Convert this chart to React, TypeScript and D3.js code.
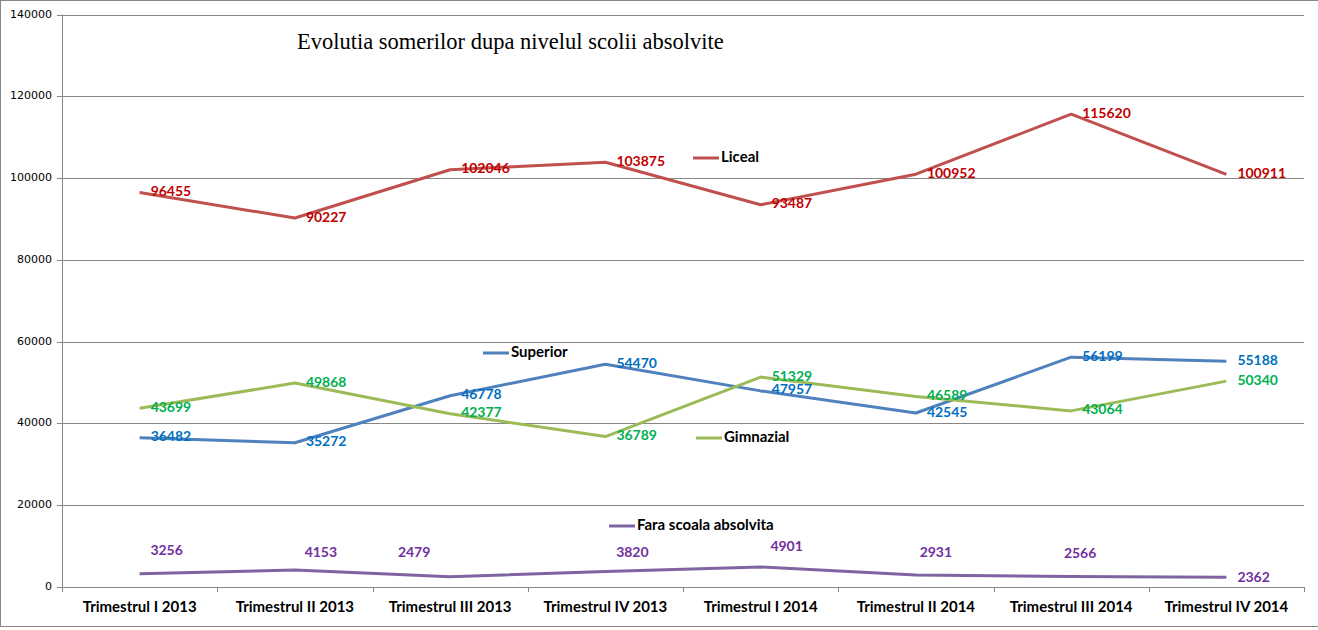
import * as d3 from "d3";

const categories = [
  "Trimestrul I 2013",
  "Trimestrul II 2013",
  "Trimestrul III 2013",
  "Trimestrul IV 2013",
  "Trimestrul I 2014",
  "Trimestrul II 2014",
  "Trimestrul III 2014",
  "Trimestrul IV 2014",
];

const liceal = [96455, 90227, 102046, 103875, 93487, 100952, 115620, 100911];
const superior = [36482, 35272, 46778, 54470, 47957, 42545, 56199, 55188];
const gimnazial = [43699, 49868, 42377, 36789, 51329, 46589, 43064, 50340];
const fara = [3256, 4153, 2479, 3820, 4901, 2931, 2566, 2362];

const yTicks = [0, 20000, 40000, 60000, 80000, 100000, 120000, 140000];

const W = 1318;
const H = 630;
const PLOT = { left: 62, right: 1304, top: 14.5, bottom: 587 };

// hand nudges for the "Fara" labels (they sit above the line in the original)
const faraDx = [27, 26, -36, 27, 26, 20, 9, 27];
const faraDy = [-22, -17, -23, -18, -20, -22, -22, 0];

const LABEL_FONT = "Lato, 'Liberation Sans', sans-serif";

interface Series {
  name: string;
  values: number[];
  line: string;
  label: string;
  legend: { x: number; y: number };
}

const series: Series[] = [
  { name: "Liceal", values: liceal, line: "#c0504d", label: "#c00000", legend: { x: 693, y: 158 } },
  { name: "Superior", values: superior, line: "#4f81bd", label: "#0070c0", legend: { x: 483, y: 353 } },
  { name: "Gimnazial", values: gimnazial, line: "#9bbb59", label: "#00b050", legend: { x: 696, y: 438 } },
  { name: "Fara scoala absolvita", values: fara, line: "#8064a2", label: "#7030a0", legend: { x: 609, y: 526 } },
];

export default function App() {
  const x = d3
    .scaleBand<string>()
    .domain(categories)
    .range([PLOT.left, PLOT.right])
    .paddingInner(0)
    .paddingOuter(0);
  const bw = x.bandwidth();
  const cx = (i: number) => (x(categories[i]) ?? 0) + bw / 2;

  const y = d3.scaleLinear().domain([0, 140000]).range([PLOT.bottom, PLOT.top]);

  const line = d3
    .line<number>()
    .x((_, i) => cx(i))
    .y((d) => y(d));

  const boundaries = categories.map((c) => x(c) ?? 0).concat([PLOT.right]);

  return (
    <div style={{ position: "fixed", left: 0, top: 0 }}>
      <svg width={W} height={H} style={{ display: "block", background: "#fff" }}>
        <rect x={0.5} y={0.5} width={W + 2} height={H - 4} fill="#fff" stroke="#868686" strokeWidth={1} />

        {/* grid + y axis */}
        {yTicks.map((t) => (
          <g key={t}>
            <line
              x1={PLOT.left - 5}
              x2={PLOT.right}
              y1={Math.round(y(t)) + 0.5}
              y2={Math.round(y(t)) + 0.5}
              stroke="#868686"
              strokeWidth={1}
            />
            <text
              x={52}
              y={y(t)}
              textAnchor="end"
              dominantBaseline="middle"
              fontFamily="'DejaVu Sans', sans-serif"
              fontSize={11}
              fill="#000"
            >
              {t}
            </text>
          </g>
        ))}
        <line
          x1={PLOT.left + 0.5}
          x2={PLOT.left + 0.5}
          y1={y(140000)}
          y2={y(0) + 5}
          stroke="#868686"
        />
        {boundaries.slice(1).map((b, i) => (
          <line
            key={i}
            x1={Math.round(b) + 0.5}
            x2={Math.round(b) + 0.5}
            y1={Math.round(y(0))}
            y2={Math.round(y(0)) + 5}
            stroke="#868686"
          />
        ))}
        {categories.map((c, i) => (
          <text
            key={c}
            x={cx(i)}
            y={608}
            textAnchor="middle"
            dominantBaseline="middle"
            fontFamily={LABEL_FONT}
            fontWeight="bold"
            fontSize={15}
            fill="#000"
          >
            {c}
          </text>
        ))}

        {/* title */}
        <text
          x={297}
          y={49}
          fontFamily="'Liberation Serif', 'Times New Roman', serif"
          fontSize={22.5}
          fill="#000"
        >
          Evolutia somerilor dupa nivelul scolii absolvite
        </text>

        {/* lines */}
        {series.map((s) => (
          <path
            key={s.name}
            d={line(s.values) ?? ""}
            fill="none"
            stroke={s.line}
            strokeWidth={3}
            strokeLinejoin="round"
          />
        ))}

        {/* data labels */}
        {series.map((s) =>
          s.values.map((v, i) => {
            const isFara = s.name.startsWith("Fara");
            const px = cx(i);
            const py = y(v);
            if (isFara && i < s.values.length - 1) {
              return (
                <text
                  key={s.name + i}
                  x={px + faraDx[i]}
                  y={py + faraDy[i]}
                  textAnchor="middle"
                  dominantBaseline="middle"
                  fontFamily={LABEL_FONT}
                  fontWeight="bold"
                  fontSize={14}
                  fill={s.label}
                >
                  {v}
                </text>
              );
            }
            return (
              <text
                key={s.name + i}
                x={px + 11}
                y={py + (isFara ? 1 : 0)}
                textAnchor="start"
                dominantBaseline="middle"
                fontFamily={LABEL_FONT}
                fontWeight="bold"
                fontSize={14}
                fill={s.label}
              >
                {v}
              </text>
            );
          })
        )}

        {/* legend entries placed in the plot */}
        {series.map((s) => (
          <g key={"lg" + s.name}>
            <line
              x1={s.legend.x}
              x2={s.legend.x + 26}
              y1={s.legend.y}
              y2={s.legend.y}
              stroke={s.line}
              strokeWidth={3}
            />
            <text
              x={s.legend.x + 28}
              y={s.legend.y}
              dominantBaseline="middle"
              fontFamily={LABEL_FONT}
              fontWeight="bold"
              fontSize={15}
              fill="#000"
            >
              {s.name}
            </text>
          </g>
        ))}
      </svg>
    </div>
  );
}
